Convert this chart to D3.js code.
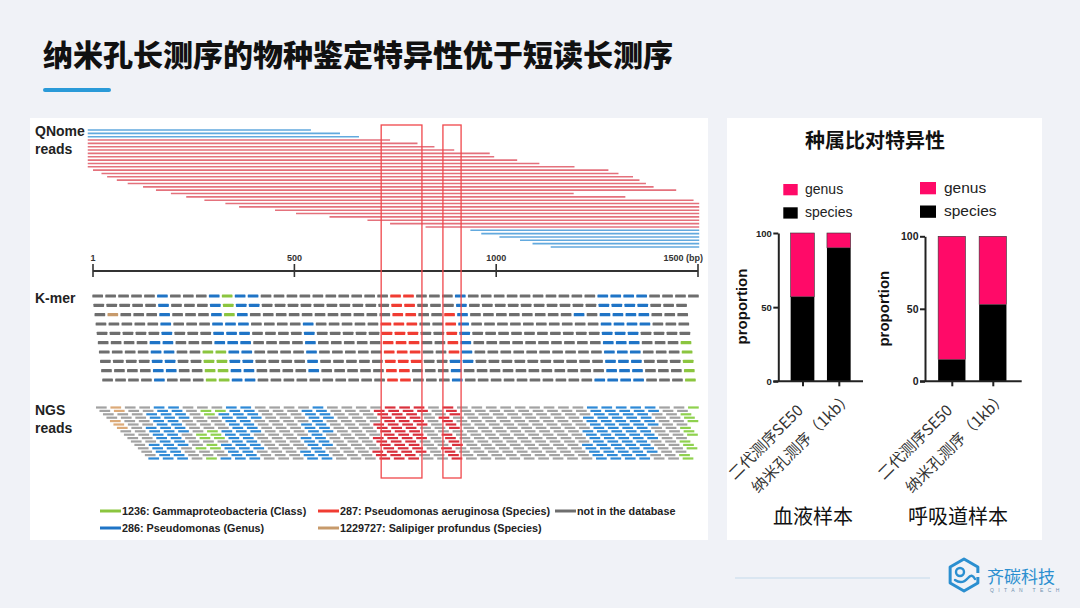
<!DOCTYPE html>
<html>
<head>
<meta charset="utf-8">
<script src="https://cdn.jsdelivr.net/npm/d3@7/dist/d3.min.js"></script>
<style>
  body { margin: 0; background: #f0f2f7; }
  svg { display: block; }
  .latin { font-family: "Liberation Sans", Arial, sans-serif; }
  .cjk { font-family: "Noto Sans CJK SC", sans-serif; }
</style>
</head>
<body>
<script>
// ---------- data ----------
const pageTitle = "纳米孔长测序的物种鉴定特异性优于短读长测序";
const chartTitle = "种属比对特异性";

const axisTicks = [1, 500, 1000, 1500];
const axisTickLabels = ["1", "500", "1000", "1500 (bp)"];

// QNome reads (bp). b = genus hit, r = species hit
const readStart = [-12, -12, -12, -12, -12, -12, -12, -12, -12, -12, -12, -12,
  1, 22, 36, 60, 87, 125, 157, 194, 232, 277, 329, 363, 452, 504, 587, 681, 737, 825,
  936, 963, 1008, 1059, 1090, 1135];
const readEnd = [541, 613, 660, 737, 805, 847, 896, 984, 995, 1052, 1107, 1194,
  1278, 1303, 1339, 1355, 1371, 1390, 1446, 1192, 1320, 1489, 1503, 1503, 1503, 1503, 1503, 1503, 1503, 1503,
  1503, 1503, 1503, 1503, 1503, 1503];
const readType = "bbb" + "rrrrrrrrr" + "rrrrrrrrr" + "rrrrrrrrr" + "bbbbbb";

// red boxes (bp)
const boxFrom = [715, 868];
const boxTo = [816, 913];

// k-mer rows: g none, b genus, c class, r species, s salipiger
const kmerRows = [
  "gggggbgggbcbbggggggggggrrgggbggggggggggbbbbgggg",
  "gggggbgggbcbbggggggggggrrgggbggggggggggbbbbggg",
  "gsgggbgggbcbgggggggggggrrggrbggggggggbgbbbbggg",
  "gggggbgggbbbggggbgggggrrrggrbggggggggggbbbbggg",
  "gggggbgggbbbggggbgggggrrrggrbggggggggggbbbgggg",
  "ggggbbgggbbbggggbgggggrrrggrbggggggggggbbbgggc",
  "ggggbbggccbbggggbgggggrrrggrbggggggggggbbbgggc",
  "ggggbbggccbbggggbgggggrrrggbbggggggggggbbbgggc",
  "ggggbbggccbbggggbgggggrrgggbgggggggggggbbbgggc",
  "ggggbgggccbbggggggggggrrgggbggggggggggbbbbgggc"
];

// NGS reads: reads per row, and the regions that colour them
const ngsRowCount = [42, 41, 41, 41, 41, 40, 40, 40, 40, 39, 39, 39, 39, 38, 38, 38];
const ngsRegionFrom = [45, 145, 266, 325, 525, 705, 870, 1225, 1465];
const ngsRegionTo = [80, 228, 320, 412, 590, 820, 905, 1395, 1510];
const ngsRegionTaxon = ["s", "b", "c", "b", "b", "r", "r", "b", "c"];
const ngsRegionRows = [[0, 1, 4, 5, 6], null, [1, 2, 7, 8, 9, 11, 12, 15], null, null, null, null, null, null];

const legendLabels = ["1236: Gammaproteobacteria (Class)", "287: Pseudomonas aeruginosa (Species)",
  "not in the database", "286: Pseudomonas (Genus)", "1229727: Salipiger profundus (Species)"];
const legendTaxa = ["c", "r", "g", "b", "s"];

const sampleGroups = ["血液样本", "呼吸道样本"];
const methods = ["二代测序SE50", "纳米孔测序（1kb）"];
const speciesShare = [[57, 90], [15, 53]];
const genusShare = [[43, 10], [85, 47]];
const proportionTicks = [0, 50, 100];
const barLegend = ["genus", "species"];

// ---------- styles ----------
const kmerColor = { g: "#6e6e6e", b: "#1f74c6", c: "#8bc53f", r: "#f03c32", s: "#c79a6b" };
const ngsColor = { g: "#a2a2a2", b: "#2f8ad6", c: "#8fd14f", r: "#d9303c", s: "#dcaa78" };
const pink = "#ff0a68";

const svg = d3.select("body").append("svg").attr("width", 1080).attr("height", 608);
svg.append("rect").attr("width", 1080).attr("height", 608).attr("fill", "#f0f2f7");

// title
svg.append("text").attr("class", "cjk").attr("x", 43).attr("y", 66)
  .style("font-size", "30px").style("font-weight", 900).attr("fill", "#111").text(pageTitle);
svg.append("rect").attr("x", 43).attr("y", 88).attr("width", 68).attr("height", 4)
  .attr("rx", 2).attr("fill", "#2a9ad8");

// panels
svg.append("rect").attr("x", 30).attr("y", 118).attr("width", 678).attr("height", 422).attr("fill", "#fff");
svg.append("rect").attr("x", 727).attr("y", 118).attr("width", 315).attr("height", 422).attr("fill", "#fff");

// ---------- left panel ----------
const xBp = d3.scaleLinear().domain([1, 1500]).range([93, 698]);
const left = svg.append("g");

const sideLabels = [["QNome", 136], ["reads", 154], ["K-mer", 303], ["NGS", 415], ["reads", 433]];
left.selectAll("text.side").data(sideLabels).join("text")
  .attr("class", "latin").attr("x", 35).attr("y", d => d[1])
  .style("font-size", "14px").style("font-weight", 700).attr("fill", "#222")
  .text(d => d[0]);

// QNome reads
const qY = d3.scaleLinear().domain([0, readStart.length - 1]).range([130, 247]);
left.append("g").selectAll("line").data(readStart).join("line")
  .attr("x1", d => xBp(d)).attr("x2", (d, i) => xBp(readEnd[i]))
  .attr("y1", (d, i) => qY(i)).attr("y2", (d, i) => qY(i))
  .attr("stroke", (d, i) => readType[i] === "b" ? "#62a9de" : "#e4717c")
  .attr("stroke-width", 1.6);

// bp axis
const ax = left.append("g");
ax.append("line").attr("x1", xBp(1)).attr("x2", xBp(1500)).attr("y1", 271).attr("y2", 271)
  .attr("stroke", "#333").attr("stroke-width", 2);
ax.selectAll("line.t").data(axisTicks).join("line")
  .attr("x1", d => xBp(d)).attr("x2", d => xBp(d)).attr("y1", 264).attr("y2", 277)
  .attr("stroke", "#333").attr("stroke-width", 1.6);
ax.selectAll("text").data(axisTicks).join("text")
  .attr("class", "latin")
  .attr("x", (d, i) => i === axisTicks.length - 1 ? xBp(d) + 5 : xBp(d))
  .attr("y", 261)
  .attr("text-anchor", (d, i) => i === axisTicks.length - 1 ? "end" : "middle")
  .style("font-size", "9px").style("font-weight", 700).attr("fill", "#333")
  .text((d, i) => axisTickLabels[i]);

// k-mers
const kmerFirstBp = -0.7, kmerShiftBp = 2.73, kmerStepBp = 32.09, kmerLenBp = 26.5;
const kY = d3.scaleLinear().domain([0, kmerRows.length - 1]).range([296, 380]);
const kmers = [];
kmerRows.forEach((row, r) => row.split("").forEach((code, i) => {
  kmers.push({ r, s: kmerFirstBp + r * kmerShiftBp + i * kmerStepBp, code });
}));
left.append("g").selectAll("rect").data(kmers).join("rect")
  .attr("x", d => xBp(d.s)).attr("width", d => xBp(d.s + kmerLenBp) - xBp(d.s))
  .attr("y", d => kY(d.r) - 1.6).attr("height", 3.2).attr("rx", 0.6)
  .attr("fill", d => kmerColor[d.code]);

// NGS reads
const ngsFirstBp = 8.4, ngsShiftBp = 8.65, ngsStepBp = 35.78, ngsLenBp = 26.5;
const nY = d3.scaleLinear().domain([0, ngsRowCount.length - 1]).range([407.5, 458.5]);
const ngs = [];
ngsRowCount.forEach((n, r) => {
  for (let i = 0; i < n; i++) {
    const s = ngsFirstBp + r * ngsShiftBp + i * ngsStepBp;
    const c = s + ngsLenBp / 2;
    let taxon = "g";
    ngsRegionFrom.forEach((f, k) => {
      if (c >= f && c <= ngsRegionTo[k] && (!ngsRegionRows[k] || ngsRegionRows[k].includes(r))) taxon = ngsRegionTaxon[k];
    });
    ngs.push({ r, s, taxon });
  }
});
left.append("g").selectAll("rect").data(ngs).join("rect")
  .attr("x", d => xBp(d.s)).attr("width", d => xBp(d.s + ngsLenBp) - xBp(d.s))
  .attr("y", d => nY(d.r) - 1.1).attr("height", 2.2)
  .attr("fill", d => ngsColor[d.taxon]);

// red boxes
left.append("g").selectAll("rect").data(boxFrom).join("rect")
  .attr("x", d => xBp(d)).attr("width", (d, i) => xBp(boxTo[i]) - xBp(d))
  .attr("y", 125).attr("height", 353)
  .attr("fill", "none").attr("stroke", "#f0474b").attr("stroke-width", 1.3);

// legend
const legCol = [100, 318, 555], legRow = [511, 528];
const legPos = [[0, 0], [1, 0], [2, 0], [0, 1], [1, 1]];
const leg = left.append("g").selectAll("g").data(legendLabels).join("g")
  .attr("transform", (d, i) => `translate(${legCol[legPos[i][0]]},${legRow[legPos[i][1]]})`);
leg.append("line").attr("x1", 0).attr("x2", 21).attr("stroke-width", 3)
  .attr("stroke", (d, i) => kmerColor[legendTaxa[i]]);
leg.append("text").attr("class", "latin").attr("x", 22).attr("y", 3.8)
  .style("font-size", "10.8px").style("font-weight", 700).attr("fill", "#222").text(d => d);

// ---------- right panel ----------
svg.append("text").attr("class", "cjk").attr("x", 875).attr("y", 148).attr("text-anchor", "middle")
  .style("font-size", "20px").style("font-weight", 700).attr("fill", "#111").text(chartTitle);

const chartLayout = [
  { axisX: 778.3, top: 233, bottom: 381.3, xEnd: 863, centers: [802.5, 838.8], barW: 23.7,
    legX: 783.3, sqW: 14.4, sqH: 11.3, legY: [184, 207.3], legFont: 14, legTextX: 805,
    tickFont: 9.5, propX: 747, propY: 306.5, groupX: 813 },
  { axisX: 925, top: 236.3, bottom: 381.3, xEnd: 1021.7, centers: [951.8, 992.8], barW: 27.3,
    legX: 920, sqW: 16, sqH: 12.3, legY: [182, 205.5], legFont: 15.5, legTextX: 944,
    tickFont: 10.5, propX: 888.5, propY: 308.7, groupX: 958 }
];

chartLayout.forEach((L, k) => {
  const y = d3.scaleLinear().domain([0, 100]).range([L.bottom, L.top]);
  const x = d3.scalePoint().domain(methods).range(L.centers);
  const g = svg.append("g");

  // legend
  const lg = g.selectAll("g.leg").data(barLegend).join("g")
    .attr("transform", (d, i) => `translate(${L.legX},${L.legY[i]})`);
  lg.append("rect").attr("width", L.sqW).attr("height", L.sqH)
    .attr("fill", (d, i) => i === 0 ? pink : "#000");
  lg.append("text").attr("class", "latin").attr("x", L.legTextX - L.legX)
    .attr("y", L.sqH / 2 + L.legFont * 0.3)
    .style("font-size", L.legFont + "px").attr("fill", "#222").text(d => d);

  // bars
  g.selectAll("rect.sp").data(methods).join("rect").attr("class", "sp")
    .attr("x", d => x(d) - L.barW / 2).attr("width", L.barW)
    .attr("y", (d, j) => y(speciesShare[k][j]))
    .attr("height", (d, j) => y(0) - y(speciesShare[k][j]))
    .attr("fill", "#000");
  g.selectAll("rect.ge").data(methods).join("rect").attr("class", "ge")
    .attr("x", d => x(d) - L.barW / 2).attr("width", L.barW)
    .attr("y", (d, j) => y(speciesShare[k][j] + genusShare[k][j]))
    .attr("height", (d, j) => y(speciesShare[k][j]) - y(speciesShare[k][j] + genusShare[k][j]))
    .attr("fill", pink).attr("stroke", "#333").attr("stroke-width", 0.6);

  // y axis
  const ya = g.append("g").attr("transform", `translate(${L.axisX},0)`)
    .call(d3.axisLeft(y).tickValues(proportionTicks).tickSize(5).tickSizeOuter(0));
  ya.select(".domain").attr("stroke", "#222").attr("stroke-width", 2);
  ya.selectAll(".tick line").attr("stroke", "#222").attr("stroke-width", 2);
  ya.selectAll(".tick text").attr("x", -6.5).attr("fill", "#222")
    .style("font-family", "'Liberation Sans', Arial, sans-serif")
    .style("font-size", L.tickFont + "px").style("font-weight", 700);

  // x axis
  g.append("line").attr("x1", L.axisX - 5).attr("x2", L.xEnd).attr("y1", L.bottom).attr("y2", L.bottom)
    .attr("stroke", "#222").attr("stroke-width", 2);
  const xa = g.append("g").attr("transform", `translate(0,${L.bottom})`)
    .call(d3.axisBottom(x).tickSize(5).tickFormat(""));
  xa.select(".domain").remove();
  xa.selectAll(".tick line").attr("stroke", "#222").attr("stroke-width", 2);

  g.selectAll("text.m").data(methods).join("text").attr("class", "cjk")
    .attr("transform", d => `translate(${x(d) - 33},446) rotate(-45)`)
    .attr("text-anchor", "middle").style("font-size", "15.5px").attr("fill", "#333")
    .text(d => d);

  // y label
  g.append("text").attr("class", "latin")
    .attr("transform", `translate(${L.propX},${L.propY}) rotate(-90)`)
    .attr("text-anchor", "middle").style("font-size", "15px").style("font-weight", 700)
    .attr("fill", "#111").text("proportion");

  // group label
  g.append("text").attr("class", "cjk").attr("x", L.groupX).attr("y", 524)
    .attr("text-anchor", "middle").style("font-size", "20px").attr("fill", "#111")
    .text(sampleGroups[k]);
});

// ---------- footer / logo ----------
svg.append("line").attr("x1", 735).attr("x2", 930).attr("y1", 578).attr("y2", 578)
  .attr("stroke", "#d3e2ef").attr("stroke-width", 1.5);

const logo = svg.append("g").attr("transform", "translate(964,575)");
const R = 16;
const hv = d3.range(6).map(i => {
  const a = (-90 + 60 * i) * Math.PI / 180;
  return [R * Math.cos(a), R * Math.sin(a)];
});
const hexPath = d3.path();
hexPath.moveTo(hv[1][0], hv[1][1] + 6);
hexPath.lineTo(hv[1][0], hv[1][1]);
hexPath.lineTo(hv[0][0], hv[0][1]);
hexPath.lineTo(hv[5][0], hv[5][1]);
hexPath.lineTo(hv[4][0], hv[4][1]);
hexPath.lineTo(hv[3][0], hv[3][1]);
hexPath.lineTo(hv[2][0], hv[2][1]);
hexPath.lineTo(hv[2][0], hv[2][1] - 6);
logo.append("path").attr("d", hexPath.toString()).attr("fill", "none")
  .attr("stroke", "#2b8fd0").attr("stroke-width", 3).attr("stroke-linejoin", "round");
logo.append("circle").attr("cx", -4).attr("cy", -3).attr("r", 4)
  .attr("fill", "none").attr("stroke", "#2b8fd0").attr("stroke-width", 2.4);
const inner = d3.path();
inner.moveTo(-9, 5);
inner.quadraticCurveTo(-2, 10, 4, 3);
inner.quadraticCurveTo(8, -2, 11, 4);
logo.append("path").attr("d", inner.toString()).attr("fill", "none")
  .attr("stroke", "#2b8fd0").attr("stroke-width", 2.4).attr("stroke-linecap", "round");

svg.append("text").attr("class", "cjk").attr("x", 987).attr("y", 583)
  .style("font-size", "17px").attr("fill", "#2b8fd0").text("齐碳科技");
svg.append("text").attr("class", "latin").attr("x", 990).attr("y", 592)
  .style("font-size", "5px").style("letter-spacing", "4.4px").attr("fill", "#6f8fae").text("QITAN TECH");
</script>
</body>
</html>
